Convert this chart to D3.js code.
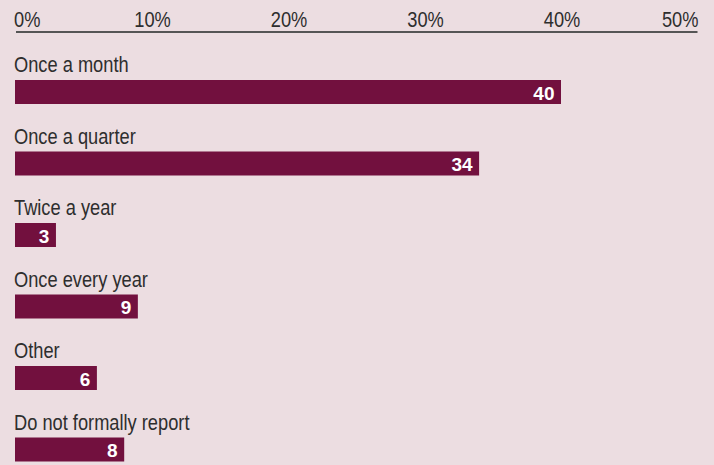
<!DOCTYPE html>
<html>
<head>
<meta charset="utf-8">
<script src="https://cdn.jsdelivr.net/npm/d3@7"></script>
<style>
  html, body { margin: 0; padding: 0; background: #ecdde1; }
  svg { display: block; }
  .tick-label, .cat-label { font-family: "Liberation Sans", Arial, sans-serif; fill: #2e2e2e; }
  .val-label { font-family: "Liberation Sans", Arial, sans-serif; font-weight: bold; fill: #fff; }
</style>
</head>
<body>
<svg id="chart" width="714" height="465"></svg>
<script>
// Reporting frequency survey, share of respondents (%)
const categories = ["Once a month", "Once a quarter", "Twice a year", "Once every year", "Other", "Do not formally report"];
const values = [40, 34, 3, 9, 6, 8];
const tickValues = [0, 10, 20, 30, 40, 50];
const tickLabels = ["0%", "10%", "20%", "30%", "40%", "50%"];

const svg = d3.select("#chart");
const narrow = 0.83; // horizontal squeeze for a condensed look

const x = d3.scaleLinear().domain([0, 50]).range([15, 697.5]);
const y = d3.scaleBand().domain(categories).range([44, 473]);
const barH = 24;

// Top axis: rule plus percentage labels
svg.append("line")
  .attr("x1", x(0) + 1).attr("x2", x(50))
  .attr("y1", 32).attr("y2", 32)
  .attr("stroke", "#555").attr("stroke-width", 2);

const last = tickValues.length - 1;
svg.selectAll(".tick")
  .data(tickValues)
  .join("g")
  .attr("class", "tick")
  .attr("transform", (d, i) => `translate(${i === 0 ? x(d) - 1 : x(d) + 1},27) scale(${narrow},1)`)
  .append("text")
  .attr("class", "tick-label")
  .attr("text-anchor", (d, i) => i === 0 ? "start" : (i === last ? "end" : "middle"))
  .attr("font-size", 22)
  .text((d, i) => tickLabels[i]);

const rows = svg.selectAll(".row")
  .data(categories.map((c, i) => ({ c, v: values[i] })))
  .join("g")
  .attr("class", "row")
  .attr("transform", d => `translate(0,${y(d.c)})`);

rows.append("g")
  .attr("transform", `translate(${x(0) - 1},28) scale(${narrow},1)`)
  .append("text")
  .attr("class", "cat-label")
  .attr("font-size", 22)
  .text(d => d.c);

rows.append("rect")
  .attr("x", x(0))
  .attr("y", 36)
  .attr("width", d => x(d.v) - x(0))
  .attr("height", barH)
  .attr("fill", "#72103e");

rows.append("text")
  .attr("class", "val-label")
  .attr("x", d => x(d.v) - 6.5)
  .attr("y", 55.5)
  .attr("text-anchor", "end")
  .attr("font-size", 19)
  .text(d => d.v);
</script>
</body>
</html>
